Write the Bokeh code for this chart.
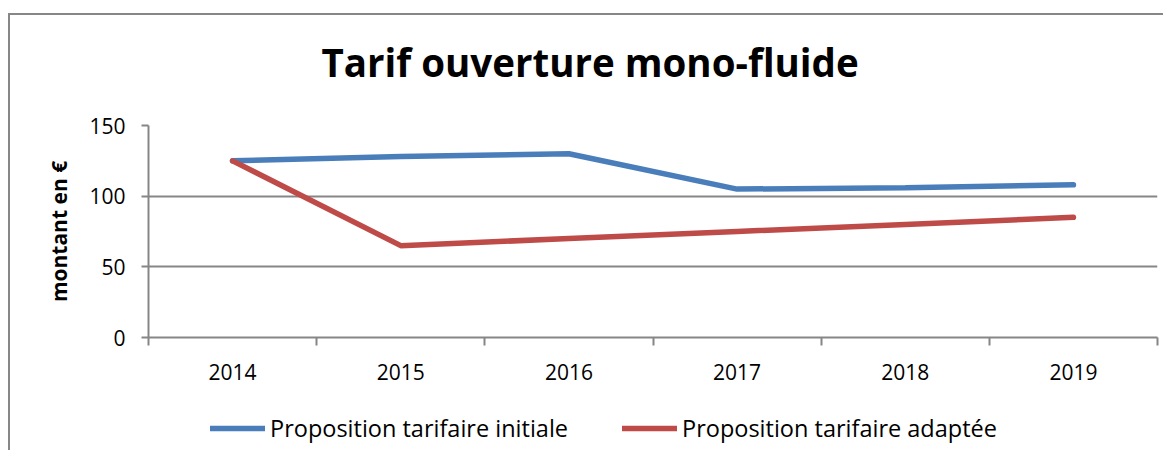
from bokeh.plotting import figure
from bokeh.models import FixedTicker, Legend, LegendItem, Range1d, Title
from bokeh.layouts import column
from bokeh.embed import file_html
from bokeh.resources import INLINE

# ---- data ----
years = ["2014", "2015", "2016", "2017", "2018", "2019"]
initiale = [125, 128, 130, 105, 106, 108]
adaptee = [125, 65, 70, 75, 80, 85]
y_ticks = [0, 50, 100, 150]

title_text = "Tarif ouverture mono-fluide"
y_label = "montant en €"
series_names = ["Proposition tarifaire initiale", "Proposition tarifaire adaptée"]

BLUE = "#4A7EBB"
RED = "#BE4B48"
GREY = "#868686"
FONT = "Open Sans"

xs = [i + 0.5 for i in range(len(years))]

p = figure(width=1155, height=400,
           x_range=Range1d(0, len(years)), y_range=Range1d(0, 150),
           output_backend="svg", toolbar_location=None,
           min_border_left=138, min_border_right=8,
           min_border_top=0, min_border_bottom=63)
p.styles = {"margin-left": "8px",
            "border-left": "2px solid transparent",
            "background-image": "linear-gradient(#878787, #878787), linear-gradient(#878787, #878787)",
            "background-size": "100% 2px, 2px 100%",
            "background-position": "0 13px, 0 13px",
            "background-origin": "border-box",
            "background-repeat": "no-repeat"}
p.outline_line_color = None
p.background_fill_color = "white"
p.border_fill_alpha = 0

r1 = p.line(xs, initiale, line_color=BLUE, line_width=5.5, line_cap="round")
r2 = p.line(xs, adaptee, line_color=RED, line_width=5.5, line_cap="round")

# x axis
xa = p.xaxis[0]
xa.ticker = FixedTicker(ticks=xs, minor_ticks=list(range(len(years) + 1)))
xa.major_label_overrides = {x: y for x, y in zip(xs, years)}
xa.major_tick_line_color = None
xa.major_tick_out = 0
xa.major_tick_in = 0
xa.minor_tick_line_color = GREY
xa.minor_tick_line_width = 2
xa.minor_tick_out = 8
xa.minor_tick_in = 0
xa.axis_line_color = GREY
xa.axis_line_width = 2
xa.major_label_text_font = FONT
xa.major_label_text_font_size = "21px"
xa.major_label_text_color = "black"
xa.major_label_standoff = 18

# y axis
ya = p.yaxis[0]
ya.ticker = FixedTicker(ticks=y_ticks)
ya.minor_tick_line_color = None
ya.major_tick_line_color = GREY
ya.major_tick_line_width = 2
ya.major_tick_out = 7
ya.major_tick_in = 0
ya.axis_line_color = GREY
ya.axis_line_width = 2
ya.major_label_text_font = FONT
ya.major_label_text_font_size = "21px"
ya.major_label_text_color = "black"
ya.major_label_standoff = 16
ya.axis_label = y_label
ya.axis_label_text_font = FONT
ya.axis_label_text_font_style = "bold"
ya.axis_label_text_font_size = "21px"
ya.axis_label_text_color = "black"
ya.axis_label_standoff = 13

p.xgrid.grid_line_color = None
p.ygrid.grid_line_color = GREY
p.ygrid.grid_line_width = 2
p.ygrid.ticker = FixedTicker(ticks=y_ticks)

# title
p.title = Title(text=title_text, align="left", offset=173, standoff=71,
                vertical_align="top",
                text_font=FONT, text_font_style="bold",
                text_font_size="38.5px", text_color="black")
p.title_location = "above"

# legend strip below the chart
lf = figure(width=1155, height=50, output_backend="svg", toolbar_location=None,
            x_axis_location=None, y_axis_location=None,
            min_border_left=0, min_border_right=0,
            min_border_top=0, min_border_bottom=0)
lf.styles = {"margin-left": "8px", "border-left": "2px solid #878787"}
lf.outline_line_color = None
lf.border_fill_alpha = 0
lf.background_fill_color = "white"
lf.grid.visible = False
# single-point lines: nothing is drawn, they only carry the legend styles
l1 = lf.line(x=xs[:1], y=initiale[:1], line_color=BLUE, line_width=5.5, line_cap="round")
l2 = lf.line(x=xs[:1], y=adaptee[:1], line_color=RED, line_width=5.5, line_cap="round")

legend = Legend(items=[LegendItem(label=series_names[0], renderers=[l1]),
                       LegendItem(label=series_names[1], renderers=[l2])],
                orientation="horizontal", location=(62, 6),
                glyph_width=55, glyph_height=32, label_height=32,
                label_standoff=5, spacing=54, padding=0, margin=0,
                label_text_font=FONT, label_text_font_size="23.5px",
                label_text_color="black",
                border_line_color=None, background_fill_alpha=0)
lf.add_layout(legend, "center")

layout = column(p, lf, spacing=0)

open("out.html", "w").write(file_html(layout, INLINE))
